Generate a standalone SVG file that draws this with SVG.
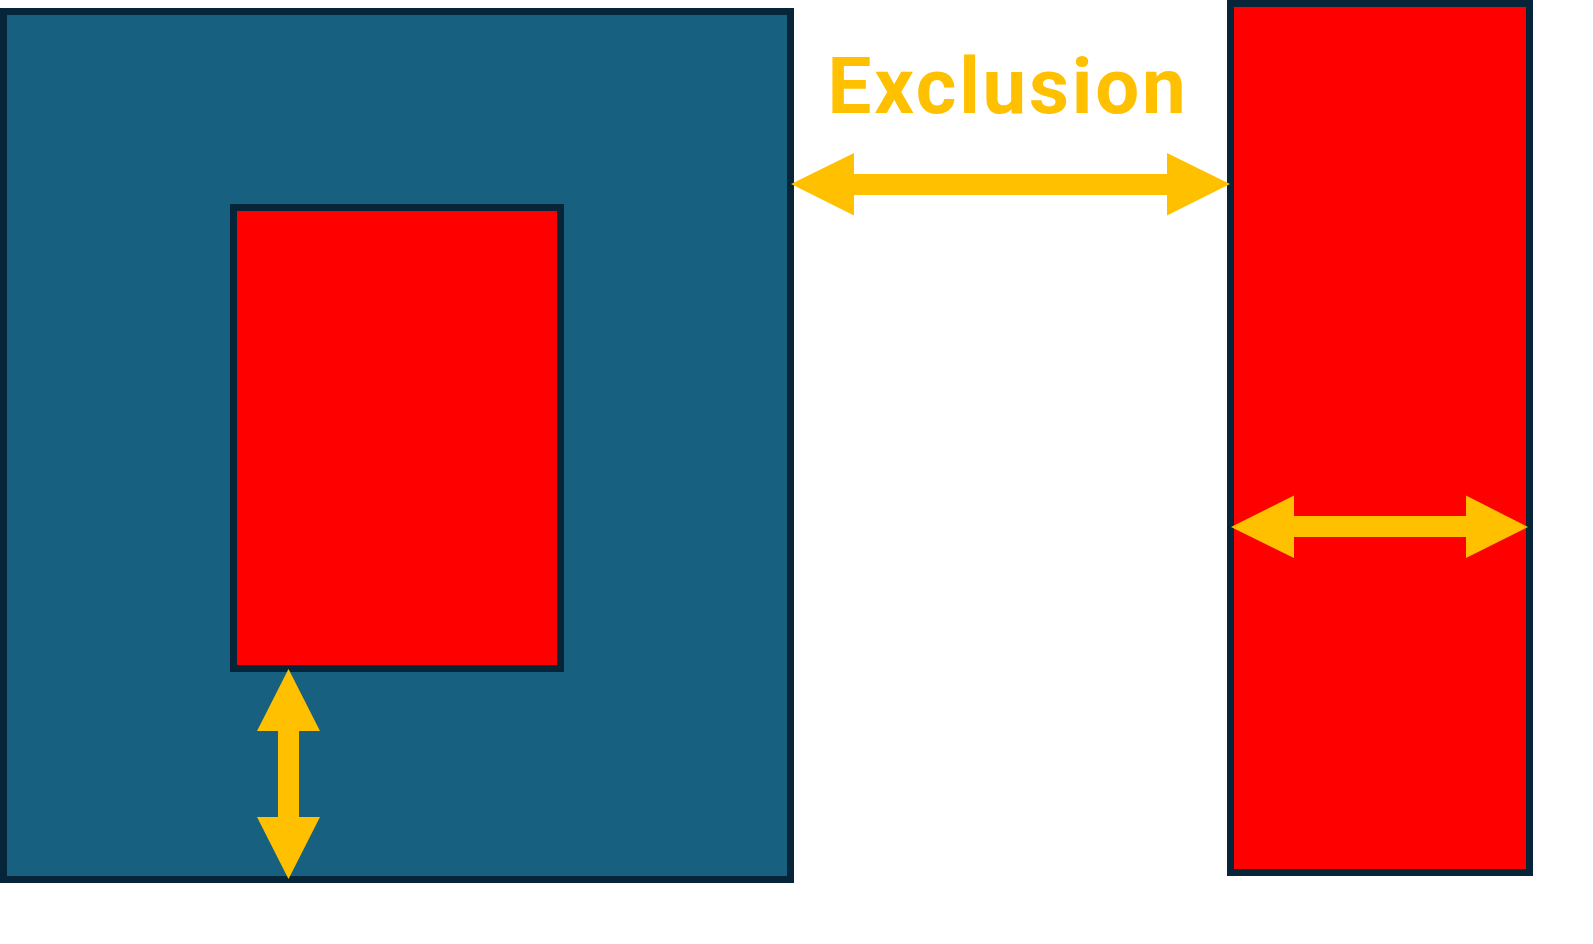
<svg xmlns="http://www.w3.org/2000/svg" width="1593" height="944" viewBox="0 0 1593 944">
  <style>
    .box { stroke: #062538; stroke-width: 7; }
    .outer { fill: #17607F; }
    .red { fill: #FF0000; }
    .arrow { fill: #FFC000; }
    .label { font-family: Roboto, "Liberation Sans", sans-serif; font-weight: bold; font-size: 78px; letter-spacing: 2.75px; fill: #FFC000; }
  </style>
  <rect width="1593" height="944" fill="#FFFFFF"/>
  <g id="outer-box">
    <rect class="box outer" x="3.5" y="11.5" width="787" height="868"/>
  </g>
  <g id="inner-box">
    <rect class="box red" x="233.5" y="207.5" width="327" height="461"/>
  </g>
  <g id="right-box">
    <rect class="box red" x="1230.5" y="3.5" width="299" height="869"/>
  </g>
  <g id="label">
    <text class="label" x="1008" y="113" text-anchor="middle">Exclusion</text>
  </g>
  <g id="connectors">
    <polygon class="arrow" points="791,184 854,153 854,174 1167,174 1167,153 1230,184 1167,215.5 1167,195 854,195 854,215.5"/>
    <polygon class="arrow" points="288.5,669 320,731 299,731 299,817 320,817 288.5,879 257,817 278,817 278,731 257,731"/>
    <polygon class="arrow" points="1231,527 1294,495.5 1294,516 1466,516 1466,495.5 1528,527 1466,558 1466,537 1294,537 1294,558"/>
  </g>
</svg>
